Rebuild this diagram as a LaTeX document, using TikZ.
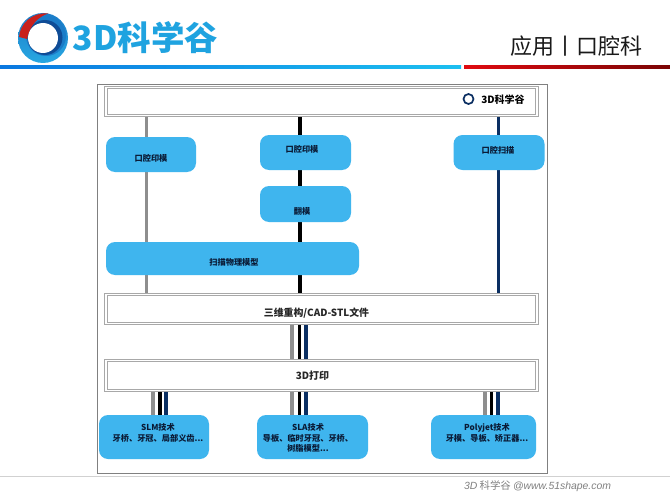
\documentclass[tikz,border=0pt]{standalone}
\usepackage{fontspec}
\setmainfont{Noto Sans CJK SC}
\newfontfamily\latinit{Liberation Sans}[ItalicFont=* Italic]
\newfontfamily\heavycjk{Noto Sans CJK SC Black}
\definecolor{skybox}{HTML}{3FB5EE}
\definecolor{logoblue}{HTML}{1FA3E0}
\definecolor{bandgray}{HTML}{A8A8A8}
\definecolor{linegray}{HTML}{8E8E8E}
\definecolor{linenavy}{HTML}{0B2F62}
\definecolor{textnavy}{HTML}{0A1A35}
\definecolor{rulea}{HTML}{0A78E0}
\definecolor{ruleb}{HTML}{1CBFF0}
\definecolor{rulec}{HTML}{E00A10}
\definecolor{ruled}{HTML}{7A0505}
\definecolor{ringmid}{HTML}{1B7CC8}
\definecolor{ringdark}{HTML}{0F4C96}
\definecolor{ringlight}{HTML}{28A8E2}
\definecolor{ringred}{HTML}{C8201C}
\pgfdeclarelayer{frameback}
\pgfdeclarelayer{conn}
\pgfsetlayers{frameback,conn,main}
\tikzset{
  x=1pt,y=-1pt,
  bluebox/.style={fill=skybox,rounded corners=9pt,inner sep=0pt},
  bandbox/.style={fill=white,draw=bandgray,line width=0.9pt,double=white,double distance=1.3pt,inner sep=0pt},
  boxtext/.style={font=\bfseries\fontsize{8.2}{10.5}\selectfont,text=textnavy,align=center,inner sep=0pt},
  bandtext/.style={font=\bfseries\fontsize{10}{12}\selectfont,text=black!85,inner sep=0pt},
  lgray/.style={draw=linegray,line width=3.6pt},
  lblack/.style={draw=black,line width=3.8pt},
  lnavy/.style={draw=linenavy,line width=3.3pt},
}
\begin{document}
\begin{tikzpicture}
\useasboundingbox (0,0) rectangle (670,503);
\begin{pgfonlayer}{frameback}
\fill[white] (0,0) rectangle (670,503);
\node[draw=black!50,line width=0.9pt,fill=white,minimum width=450pt,minimum height=389pt,inner sep=0pt] (frame) at (322,278.5) {};
\end{pgfonlayer}
% header
\shade[left color=rulea,right color=ruleb] (0,65.8) rectangle (461,68.6);
\shade[left color=rulec,right color=ruled] (464,65.8) rectangle (670,68.6);
\shade[top color=ringmid,bottom color=ringlight] (43,38) circle (25);
\fill[ringmid] (46,36) circle (20);
\fill[ringdark] (45,37.5) circle (17.5);
\fill[ringred] (19,37) .. controls (20,24) and (32,12) .. (48,13.5) .. controls (38,17) and (30,25) .. (27,39) -- cycle;
\fill[white] (43,38) circle (15);
\node[font=\heavycjk\fontsize{33.5}{35}\selectfont,text=logoblue,inner sep=0pt] (logotext) at (145.5,38) {3D科学谷};
\node[font=\fontsize{22}{24}\selectfont,text=black!90,inner sep=0pt] (title) at (576.5,46) {应用丨口腔科};
% bands
\node[bandbox,minimum width=431pt,minimum height=28pt] (band1) at (321.5,101.5) {};
\node[bandbox,minimum width=431pt,minimum height=29pt] (band2) at (321.5,309) {};
\node[bandbox,minimum width=431pt,minimum height=30pt] (band3) at (321.5,375.5) {};
\draw[linenavy,line width=1.7pt] (468.5,99) circle (5);
\node[font=\heavycjk\fontsize{10}{10}\selectfont,text=black,inner sep=0pt] (smalllogo) at (503,99.5) {3D科学谷};
\node[bandtext,font=\bfseries\fontsize{9.9}{12}\selectfont] (band2text) at (316.5,313.5) {三维重构/CAD-STL文件};
\node[bandtext] (band3text) at (312.5,375.5) {3D打印};
% process boxes
\node[bluebox,minimum width=90pt,minimum height=35pt] (imp1) at (151,154.5) {};
\node[bluebox,minimum width=91pt,minimum height=35pt] (imp2) at (305.5,152.5) {};
\node[bluebox,minimum width=91pt,minimum height=36pt] (mold) at (305.5,204) {};
\node[bluebox,minimum width=253pt,minimum height=33pt] (scanmodel) at (232.5,258.5) {};
\node[bluebox,minimum width=91pt,minimum height=35pt] (oralscan) at (499,152.5) {};
\node[bluebox,minimum width=110pt,minimum height=44pt] (slm) at (154,437) {};
\node[bluebox,minimum width=111pt,minimum height=44pt] (sla) at (312.5,437) {};
\node[bluebox,minimum width=105pt,minimum height=44pt] (poly) at (483.5,437) {};
\node[boxtext] (imp1text) at (151,158.5) {口腔印模};
\node[boxtext] (imp2text) at (302,149) {口腔印模};
\node[boxtext] (moldtext) at (302,211) {翻模};
\node[boxtext] (scantext) at (234,262) {扫描物理模型};
\node[boxtext] (oralscantext) at (498,150) {口腔扫描};
\node[boxtext,anchor=north] (slmtext) at (158,423.5) {SLM技术\\牙桥、牙冠、局部义齿...};
\node[boxtext,anchor=north] (slatext) at (308,423.5) {SLA技术\\导板、临时牙冠、牙桥、\\树脂模型...};
\node[boxtext,anchor=north] (polytext) at (487,423.5) {Polyjet技术\\牙模、导板、矫正器...};
% footer
\draw[black!18,line width=0.8pt] (0,476.5) -- (670,476.5);
\node[font=\fontsize{10.4}{12}\selectfont\itshape,text=black!50,inner sep=0pt] (footer) at (537.5,486) {{\latinit\itshape 3D} 科学谷 {\latinit\itshape @www.51shape.com}};
% connectors
\coordinate (xa) at (146.5,0); \coordinate (xb) at (300,0); \coordinate (xc) at (498.5,0);
\coordinate (ma) at (292,0); \coordinate (mb) at (299.5,0); \coordinate (mc) at (306,0);
\coordinate (sa) at (153,0); \coordinate (sb) at (160,0); \coordinate (sc) at (166,0);
\coordinate (pa) at (485,0); \coordinate (pb) at (491.5,0); \coordinate (pc) at (498,0);
\begin{pgfonlayer}{conn}
\draw[lgray] (band1.south -| xa) -- (imp1.north -| xa);
\draw[lgray] (imp1.south -| xa) -- (scanmodel.north -| xa);
\draw[lgray] (scanmodel.south -| xa) -- (band2.north -| xa);
\draw[lblack] (band1.south -| xb) -- (imp2.north -| xb);
\draw[lblack] (imp2.south -| xb) -- (mold.north -| xb);
\draw[lblack] (mold.south -| xb) -- (scanmodel.north -| xb);
\draw[lblack] (scanmodel.south -| xb) -- (band2.north -| xb);
\draw[lnavy] (band1.south -| xc) -- (oralscan.north -| xc);
\draw[lnavy] (oralscan.south -| xc) -- (band2.north -| xc);
\draw[lgray] (band2.south -| ma) -- (band3.north -| ma);
\draw[lblack] (band2.south -| mb) -- (band3.north -| mb);
\draw[lnavy] (band2.south -| mc) -- (band3.north -| mc);
\draw[lgray] (band3.south -| sa) -- (slm.north -| sa);
\draw[lblack] (band3.south -| sb) -- (slm.north -| sb);
\draw[lnavy] (band3.south -| sc) -- (slm.north -| sc);
\draw[lgray] (band3.south -| ma) -- (sla.north -| ma);
\draw[lblack] (band3.south -| mb) -- (sla.north -| mb);
\draw[lnavy] (band3.south -| mc) -- (sla.north -| mc);
\draw[lgray] (band3.south -| pa) -- (poly.north -| pa);
\draw[lblack] (band3.south -| pb) -- (poly.north -| pb);
\draw[lnavy] (band3.south -| pc) -- (poly.north -| pc);
\end{pgfonlayer}
\end{tikzpicture}
\end{document}
